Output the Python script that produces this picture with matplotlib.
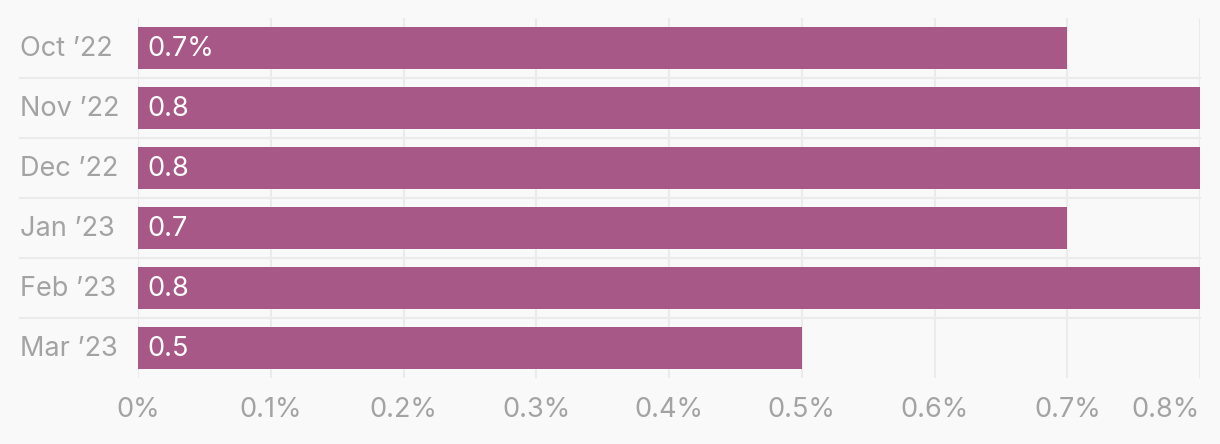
import matplotlib.pyplot as plt
from matplotlib.transforms import blended_transform_factory

months = ["Oct \u201922", "Nov \u201922", "Dec \u201922", "Jan \u201923", "Feb \u201923", "Mar \u201923"]
values = [0.7, 0.8, 0.8, 0.7, 0.8, 0.5]
bar_labels = ["0.7%", "0.8", "0.8", "0.7", "0.8", "0.5"]
x_ticks = [0, 0.1, 0.2, 0.3, 0.4, 0.5, 0.6, 0.7, 0.8]
x_tick_labels = ["0%", "0.1%", "0.2%", "0.3%", "0.4%", "0.5%", "0.6%", "0.7%", "0.8%"]

plt.rcParams["font.family"] = ["Inter", "DejaVu Sans"]

BG = "#f9f9f9"
BAR = "#a85886"
GRID = "#ebebeb"
TXT = "#a3a3a3"
FS = 19.5

W, H = 1220, 444
fig = plt.figure(figsize=(W / 100, H / 100), dpi=100, facecolor=BG)
ax = fig.add_axes([138 / W, 1 - 378 / H, (1200 - 138) / W, 360 / H])
ax.set_facecolor(BG)

pos = list(range(len(months)))
ax.barh(pos, values, height=0.7, color=BAR, zorder=2)

ax.set_xlim(0, 0.8)
ax.set_ylim(len(months) - 0.5, -0.5)

for s in ax.spines.values():
    s.set_visible(False)

ax.set_xticks(x_ticks)
ax.set_xticklabels(x_tick_labels, fontsize=FS, color=TXT)
ax.get_xticklabels()[-1].set_horizontalalignment("right")
ax.tick_params(axis="x", length=0, pad=14)
ax.set_yticks([])
ax.grid(axis="x", color=GRID, linewidth=1.5, zorder=0)

# row separators running under the labels too
trans = blended_transform_factory(fig.transFigure, ax.transData)
for i in range(len(months) - 1):
    ax.plot([20 / W, 1200 / W], [i + 0.5, i + 0.5], color=GRID, linewidth=1.5,
            transform=trans, clip_on=False, zorder=1)

for i, m in enumerate(months):
    ax.text(20 / W, i + 0.02, m, transform=trans, ha="left", va="center", fontsize=FS, color=TXT)

for i, lab in enumerate(bar_labels):
    ax.annotate(lab, (0, i + 0.02), xytext=(6.5, 0), textcoords="offset points",
                ha="left", va="center", fontsize=FS, color="white", zorder=3)

fig.savefig("out.png", dpi=100, facecolor=BG)
